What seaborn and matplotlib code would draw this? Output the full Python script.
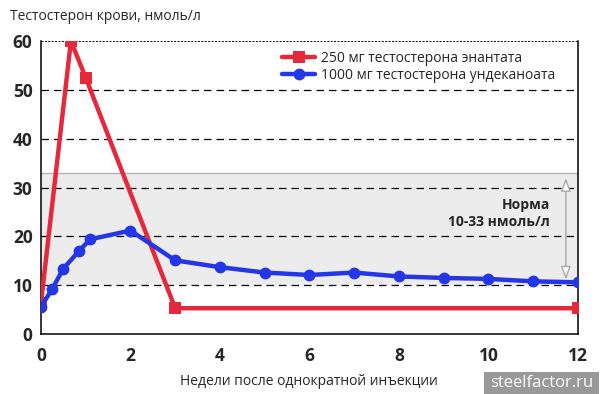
import matplotlib
matplotlib.use("Agg")
import matplotlib.pyplot as plt
import seaborn as sns
from matplotlib.patches import Rectangle

# data
red_label = "250 мг тестостерона энантата"
red_weeks = [0, 0.67, 1, 3, 12]
red_values = [6.3, 60, 52.5, 5.3, 5.3]

blue_label = "1000 мг тестостерона ундеканоата"
blue_weeks = [0, 0.25, 0.5, 0.86, 1.1, 2, 3, 4, 5, 6, 7, 8, 9, 10, 11, 12]
blue_values = [5.6, 9.2, 13.4, 17.1, 19.4, 21.2, 15.1, 13.7, 12.6, 12.1, 12.6, 11.8, 11.5, 11.3, 10.8, 10.6]

norm_low, norm_high = 10, 33
x_ticks = [0, 2, 4, 6, 8, 10, 12]
y_ticks = [0, 10, 20, 30, 40, 50, 60]

sns.set_style("white")
plt.rcParams['font.family'] = ['Open Sans', 'DejaVu Sans']

fig = plt.figure(figsize=(6.02, 3.94), dpi=100)
ax = fig.add_axes([0.068, 0.152, 0.892, 0.744])

# normal range band
ax.add_patch(Rectangle((0, norm_low), 12, norm_high - norm_low, facecolor="#ececec",
                       edgecolor="none", zorder=0))
ax.plot([0, 12], [norm_high, norm_high], color="#b5b5b5", lw=1, zorder=1)

# dashed grid
for v in y_ticks[1:-1]:
    ax.axhline(v, color="black", lw=0.9, dashes=(6, 4), zorder=1)
ax.axhline(60, color="black", lw=0.7, dashes=(2, 1.5), zorder=1)

sns.lineplot(x=red_weeks, y=red_values, ax=ax, color="#e5283a", lw=3.2, marker="s",
             markersize=8, markeredgewidth=0, label=red_label, zorder=3)
sns.lineplot(x=blue_weeks, y=blue_values, ax=ax, color="#2536e6", lw=3.2, marker="o",
             markersize=8.5, markeredgewidth=0, label=blue_label, zorder=4)

ax.set_xlim(0, 12)
ax.set_ylim(0, 60)
ax.set_xticks(x_ticks)
ax.set_yticks(y_ticks)
ax.tick_params(length=0, pad=6)
for lab in ax.get_xticklabels() + ax.get_yticklabels():
    lab.set_fontsize(12.5)
    lab.set_fontweight("bold")
ax.tick_params(axis="x", pad=9)

for side in ["left", "bottom", "right"]:
    ax.spines[side].set_color("black")
    ax.spines[side].set_linewidth(1.1)
ax.spines["top"].set_visible(False)

ax.set_xlabel("Недели после однократной инъекции", fontsize=10, labelpad=7)
ax.set_ylabel("")
fig.text(0.017, 0.957, "Тестостерон крови, нмоль/л", fontsize=10, va="center")

leg = ax.legend(loc="upper left", bbox_to_anchor=(0.431, 1.0), frameon=True,
                fontsize=10, handlelength=2.4, handletextpad=0.4, labelspacing=0.15,
                borderpad=0.2, fancybox=False)
leg.get_frame().set_facecolor("white")
leg.get_frame().set_edgecolor("none")

# norm annotation
ax.text(11.37, 24.7, "Норма\n10-33 нмоль/л", ha="right", va="center", fontsize=10,
        fontweight="bold", linespacing=1.3, zorder=5)
ax.annotate("", xy=(11.73, 10.6), xytext=(11.73, 32.5),
            arrowprops=dict(arrowstyle="<|-|>,head_length=0.8,head_width=0.3",
                            fc="white", ec="#a8a8a8", lw=1), zorder=5)

# watermark
fig.patches.append(Rectangle((0.804, 0.0), 0.191, 0.056, transform=fig.transFigure,
                             facecolor="#999999", edgecolor="none"))
fig.text(0.9, 0.028, "steelfactor.ru", fontsize=12, color="white", ha="center", va="center")

fig.savefig("out.png", dpi=100)
